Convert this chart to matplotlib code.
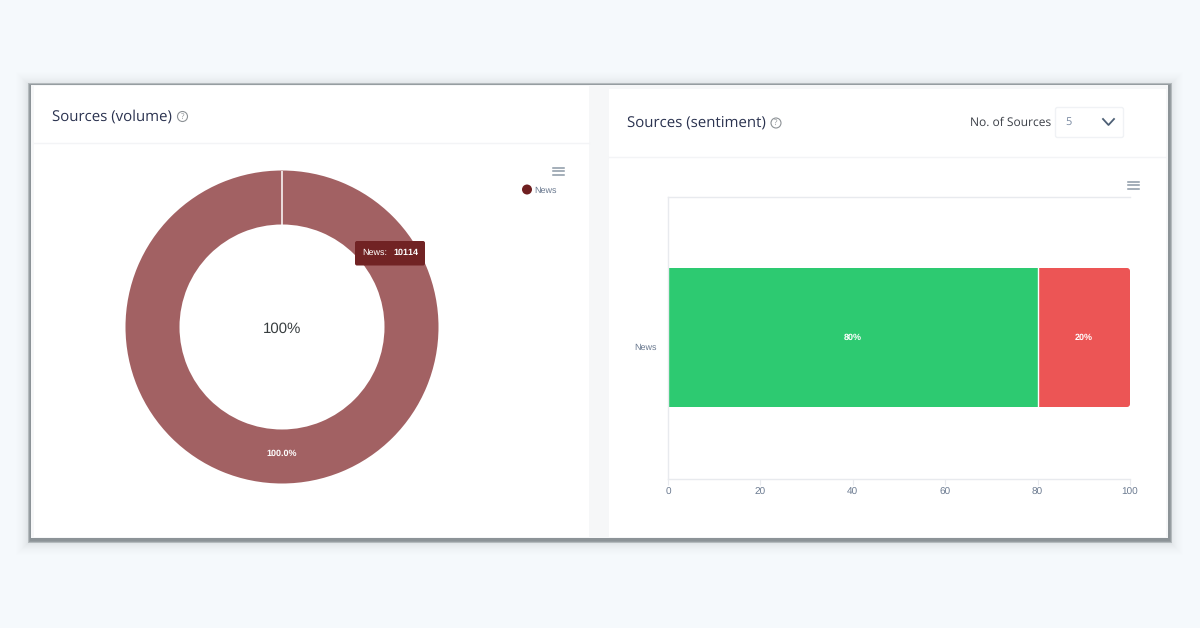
import matplotlib
matplotlib.use("Agg")
import matplotlib.pyplot as plt
from matplotlib.patches import Rectangle, FancyBboxPatch, Circle
from matplotlib.transforms import ScaledTranslation

# ---- data ----
volume_labels = ["News"]
volume_values = [10114]
sent_categories = ["News"]
sent_positive = [80]
sent_negative = [20]
x_ticks = [0, 20, 40, 60, 80, 100]

W, H = 1200, 628
plt.rcParams['font.family'] = ['Open Sans', 'DejaVu Sans']
plt.rcParams['text.hinting'] = 'no_hinting'
plt.rcParams['text.hinting_factor'] = 1
fig = plt.figure(figsize=(W/100, H/100), dpi=100, facecolor='#f5f9fc')

def axes_px(x0, y0, x1, y1, **kw):
    return fig.add_axes([x0/W, 1-y1/H, (x1-x0)/W, (y1-y0)/H], **kw)

bg = axes_px(0, 0, W, H)
bg.set_xlim(0, W); bg.set_ylim(H, 0); bg.axis('off')

# soft outer shadow, built from many faint layers
for pad in range(14, 0, -1):
    a = 0.004 + 0.035 * (1 - pad/14)**3
    bg.add_patch(Rectangle((30-pad, 85-pad+1), 1139+2*pad, 455+2*pad, fc='#46525c', ec='none', alpha=a, zorder=1))
# blurred dark frame
for pad, c in [(2.5, '#b4babd'), (1.5, '#969da1'), (0.5, '#8c9397')]:
    bg.add_patch(Rectangle((30-pad, 85-pad), 1139+2*pad, 455+2*pad, fc=c, ec='none', zorder=2))
bg.add_patch(Rectangle((31, 85), 1137, 453, fc='#f6f7f8', ec='none', zorder=3))
# cards
bg.add_patch(Rectangle((34, 86), 555, 451, fc='white', ec='none', zorder=4))
bg.add_patch(Rectangle((609, 89), 557, 448, fc='white', ec='none', zorder=4))
# header separators
bg.plot([34, 589], [143, 143], color='#f3f4f6', lw=1, zorder=5)
bg.plot([609, 1166], [156.5, 156.5], color='#f3f4f6', lw=1, zorder=5)

title_c = '#2b3350'
bg.text(52, 116.5, "Sources (volume)", fontsize=11, color=title_c, va='center', ha='left', zorder=6)
bg.text(627, 123, "Sources (sentiment)", fontsize=11, color=title_c, va='center', ha='left', zorder=6)
for cx, cy in [(182.5, 116.5), (776, 123)]:
    bg.add_patch(Circle((cx, cy), 5, fc='none', ec='#8d9296', lw=0.8, zorder=6))
    bg.text(cx, cy, "?", fontsize=6, color='#8d9296', ha='center', va='center', zorder=7)

bg.text(970, 122.5, "No. of Sources", fontsize=8.8, color='#3c4048', va='center', ha='left', zorder=6)
bg.add_patch(FancyBboxPatch((1055.5, 107.5), 68, 30, boxstyle="round,pad=0,rounding_size=2",
                            fc='white', ec='#f0f2f5', lw=1, zorder=6))
bg.text(1065, 122.5, "5", fontsize=8, color='#7b8ba3', va='center', ha='left', zorder=7)
bg.plot([1103, 1108.5, 1114], [119, 125, 119], color='#4d5f75', lw=1.3, zorder=7)

# hamburger menus
for mx, my in [(558, 171), (1133, 185)]:
    for dy in (-3.5, 0, 3.5):
        bg.plot([mx-5.5, mx+5.5], [my+dy, my+dy], color='#8b99a6', lw=1.1, zorder=7)

# legend
bg.add_patch(Circle((527, 189.5), 5, fc='#6f1f20', ec='none', zorder=7))
bg.text(534, 190.5, volume_labels[0], fontsize=6.6, family=['Liberation Sans'], color='#6b7a90', va='center', ha='left', zorder=7)

# ---- donut ----
cx, cy, r = 282, 327, 156.5
ax1 = axes_px(cx-r, cy-r, cx+r, cy+r)
ax1.patch.set_alpha(0)
ax1.pie(volume_values, radius=1, startangle=90, counterclock=False, colors=['#a26163'],
        wedgeprops=dict(width=54/156.5, edgecolor='none'))
ax1.set_xlim(-1, 1); ax1.set_ylim(-1, 1)
ax1.plot([0, 0], [102.5/156.5, 1], color='white', lw=1.1, solid_capstyle='butt')
ax1.text(0, -0.015, "100%", fontsize=11, family=['Liberation Sans'], color='#373d3f', ha='center', va='center')
ax1.text(0, -0.81, "100.0%", fontsize=6.8, family=['Liberation Sans'], fontweight='bold', color='white', ha='center', va='center')

# tooltip, above the donut
tip = axes_px(0, 0, W, H)
tip.set_xlim(0, W); tip.set_ylim(H, 0); tip.axis('off'); tip.patch.set_alpha(0)
tip.add_patch(FancyBboxPatch((355, 241), 70, 24.5, boxstyle="round,pad=0,rounding_size=2",
                             fc='#712324', ec='none'))
tip.text(362, 253, f"{volume_labels[0]}:", fontsize=6.6, family=['Liberation Sans'], color='white', va='center', ha='left')
tip.text(393, 253, f"{volume_values[0]}", fontsize=6.6, family=['Liberation Sans'], fontweight='bold', color='white', va='center', ha='left')

# ---- stacked bar ----
ax2 = axes_px(668, 197, 1130, 479)
ax2.patch.set_alpha(0)
ypos = list(range(len(sent_categories)))
ax2.barh(ypos, sent_positive, height=139/282, color='#2dca71', edgecolor='none')
red = ax2.barh(ypos, sent_negative, left=sent_positive, height=139/282, color='#ec5555', edgecolor='none')
clip = FancyBboxPatch((1000, 268), 130, 139, boxstyle="round,pad=0,rounding_size=3", transform=bg.transData)
for b in red:
    b.set_clip_path(clip)
ax2.set_xlim(0, 100); ax2.set_ylim(-0.502, 0.498)
ax2.axvline(sent_positive[0], ymin=.253, ymax=.747, color='white', lw=1)
ax2.spines['right'].set_visible(False)
for s in ('top', 'left', 'bottom'):
    ax2.spines[s].set_color('#e8eaee')
    ax2.spines[s].set_linewidth(1)
ax2.set_xticks(x_ticks)
ax2.set_xticklabels([str(v) for v in x_ticks], family=['Liberation Sans'])
ax2.tick_params(axis='x', length=4, width=0.8, color='#e8eaee', labelsize=7.3, labelcolor='#6b7a90', pad=2, direction='out')
ax2.set_yticks(ypos)
ax2.set_yticklabels(sent_categories, family=['Liberation Sans'])
ax2.tick_params(axis='y', length=0, labelsize=6.4, labelcolor='#6b7a90', pad=8)
for lab in ax2.get_yticklabels():
    lab.set_transform(lab.get_transform() + ScaledTranslation(0, -0.095, fig.dpi_scale_trans))
ax2.text(sent_positive[0]/2, 0.0, f"{sent_positive[0]}%", fontsize=6.8,
         family=['Liberation Sans'], fontweight='bold', color='white', ha='center', va='center')
ax2.text(sent_positive[0]+sent_negative[0]/2, 0.0, f"{sent_negative[0]}%", fontsize=6.8,
         family=['Liberation Sans'], fontweight='bold', color='white', ha='center', va='center')

fig.savefig("out.png", dpi=100, facecolor=fig.get_facecolor())
